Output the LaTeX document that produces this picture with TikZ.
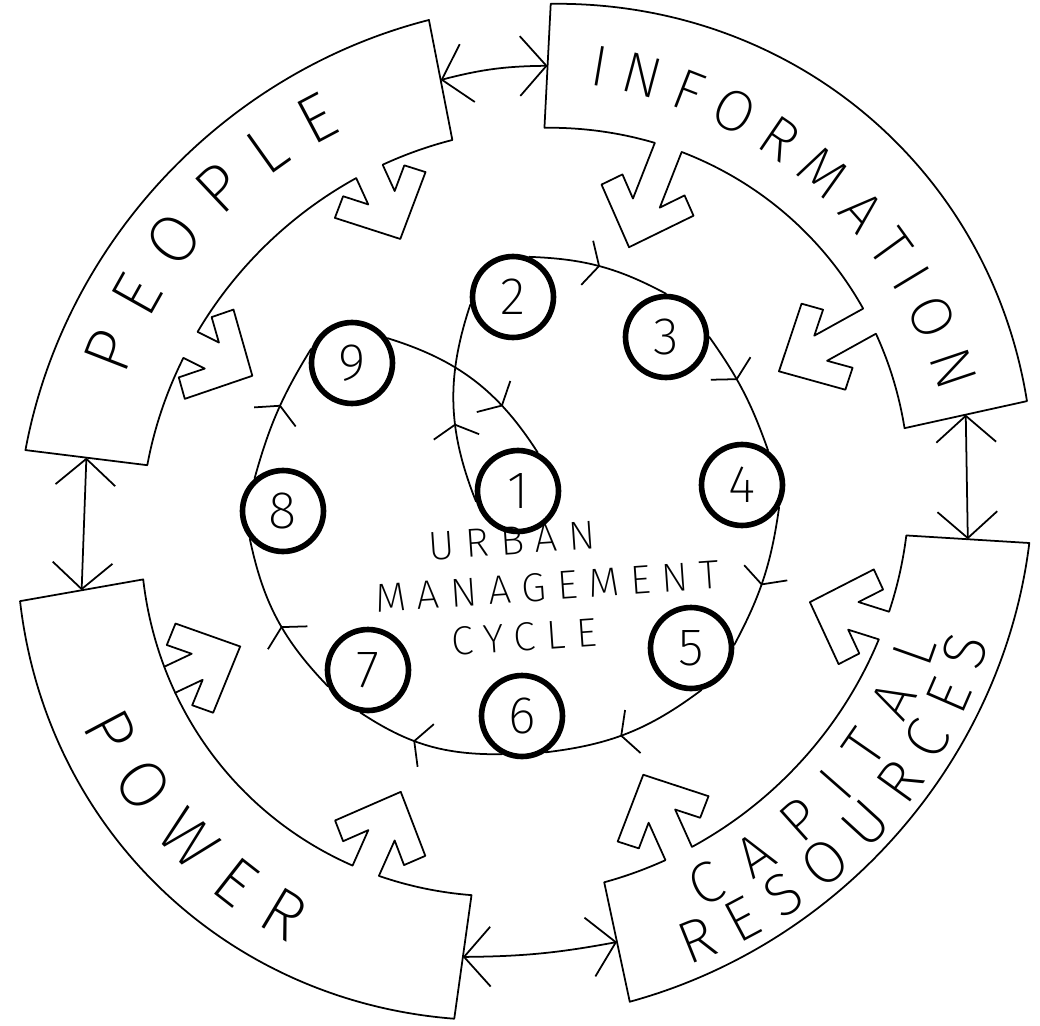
\documentclass[tikz,border=0pt]{standalone}
\usepackage{fontspec}
\newfontfamily\handfont{Fira Sans ExtraLight}
\usetikzlibrary{arrows.meta,decorations.markings,decorations.text}

\newcommand\chevron[2]{%
  \draw[ring, rotate=#1] (371.7,14) -- ({#2+45},14) -- ({#2+63.5},32.4) -- ({#2+48},48) -- (#2,0)
    -- ({#2+48},-48) -- ({#2+63.5},-32.4) -- ({#2+45},-14) -- (371.7,-14);}

\newcommand\arctext[5]{%
  \path[decorate, decoration={text along path, text={|\handfont\fontsize{#2}{#2}\selectfont|#1}, text align={fit to path}}]
    (#3:#5) arc[start angle=#3, end angle=#4, radius=#5];}

\begin{document}
\begin{tikzpicture}[x=0.02cm, y=0.02cm, line cap=round, line join=round,
  ring/.style={line width=1pt},
  stage/.style={circle, draw, line width=3.2pt, minimum size=1.62cm, inner sep=0pt, font=\handfont\fontsize{30}{30}\selectfont},
  link/.style={line width=1pt, {Straight Barb[length=15pt,width=34pt]}-{Straight Barb[length=15pt,width=34pt]}},
  flow/.style={line width=1pt, postaction={decorate}, decoration={markings, mark=at position #1 with {\arrow{Straight Barb[length=7pt,width=26pt]}}}},
  flow/.default=0.5]
\useasboundingbox (-525,-513) rectangle (515,512);

\begin{scope}[rotate=45, xscale=1.065, rotate=-45]
\draw[ring] (113.5:372) arc[start angle=113.5, end angle=102.7, radius=372] -- (102.7:492)
  arc[start angle=102.7, end angle=171.2, radius=492] -- (171.2:372) arc[start angle=171.2, end angle=154.6, radius=372];
\draw[ring] (150.2:372) arc[start angle=150.2, end angle=117.9, radius=372];
\chevron{152.4}{303}
\chevron{115.7}{298}

\draw[ring] (72.1:372) arc[start angle=72.1, end angle=88.9, radius=372] -- (88.9:492)
  arc[start angle=88.9, end angle=10.8, radius=492] -- (10.8:372) arc[start angle=10.8, end angle=25.8, radius=372];
\draw[ring] (30.2:372) arc[start angle=30.2, end angle=67.7, radius=372];
\chevron{69.9}{270}
\chevron{28}{274}

\draw[ring] (-16.8:372) arc[start angle=-16.8, end angle=-5.3, radius=372] -- (-5.3:492)
  arc[start angle=-5.3, end angle=-76.3, radius=492] -- (-76.3:372) arc[start angle=-76.3, end angle=-66.8, radius=372];
\draw[ring] (-62.4:372) arc[start angle=-62.4, end angle=-21.2, radius=372];
\chevron{-19}{295}
\chevron{-64.6}{286}

\draw[ring] (206.3:372) arc[start angle=206.3, end angle=188.3, radius=372] -- (188.3:492)
  arc[start angle=188.3, end angle=263.8, radius=492] -- (263.8:372) arc[start angle=263.8, end angle=249.5, radius=372];
\draw[ring] (245.1:372) arc[start angle=245.1, end angle=206.3, radius=372];
\chevron{204.1}{298}
\chevron{247.3}{290}

\coordinate (peopleN) at (102.7:432);
\coordinate (infoN) at (88.9:432);
\coordinate (infoE) at (10.8:432);
\coordinate (capE) at (-5.3:432);
\coordinate (capS) at (-76.3:432);
\coordinate (powerS) at (263.8:432);
\coordinate (powerW) at (188.3:432);
\coordinate (peopleW) at (171.2:432);
\end{scope}

\draw[link] (peopleN) to[bend left=7] (infoN);
\draw[link] (infoE) -- (capE);
\draw[link] (capS) to[bend left=5] (powerS);
\draw[link] (powerW) -- (peopleW);

\arctext{PEOPLE}{38}{161.3}{115.6}{422}
\arctext{INFORMATION}{33}{81.5}{16}{432}
\arctext{POWER}{38}{205.7}{241.3}{492}
\arctext{CAPITAL}{33}{-66.1}{-17.7}{433}
\arctext{RESOURCES}{34}{-70.2}{-15.6}{482}

\node[stage] (s1) at (-7,21) {1};
\node[stage] (s2) at (-12,215) {2};
\node[stage] (s3) at (141,175) {3};
\node[stage] (s4) at (217,27) {4};
\node[stage] (s5) at (166,-136) {5};
\node[stage] (s6) at (-3,-204) {6};
\node[stage] (s7) at (-157,-158) {7};
\node[stage] (s8) at (-242,1) {8};
\node[stage] (s9) at (-173,149) {9};

\node[font=\handfont\fontsize{23}{27.6}\selectfont\addfontfeature{LetterSpace=27}, align=center, rotate=4] (cyclelabel) at (22,-75)
{URBAN\hspace*{36pt}\\MANAGEMENT\\CYCLE\hspace*{30pt}};

\draw[flow=0.4] (s1.194) to[bend left=20] (s2.190);
\draw[flow] (s2.68) to[bend left=13] (s3.90);
\draw[flow=0.4] (s3.0) to[bend left=8] (s4.53);
\draw[flow=0.55] (s4.-31) to[bend left=10] (s5.4);
\draw[flow=0.55] (s5.-76) to[bend left=15] (s6.-57);
\draw[flow=0.6] (s6.242) to[bend left=17] (s7.260);
\draw[flow=0.45] (s7.202) to[bend left=16] (s8.220);
\draw[flow=0.55] (s8.131) to[bend left=8] (s9.161);
\draw[flow=0.7] (s9.35) to[bend left=20] (s1.63);
\end{tikzpicture}
\end{document}
